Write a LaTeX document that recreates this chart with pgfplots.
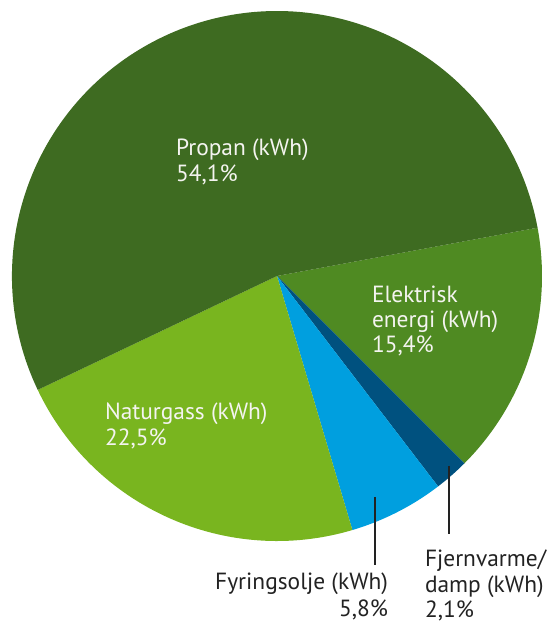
\documentclass[border=0pt]{standalone}
\usepackage{pgfplots}
\usepackage{pgfplotstable}
\pgfplotsset{compat=1.18}
\usepackage{fontspec}
\setmainfont{PT Sans}
\definecolor{cprop}{HTML}{3E6B21}
\definecolor{celek}{HTML}{4F8A22}
\definecolor{cnat}{HTML}{79B51F}
\definecolor{cfyr}{HTML}{009FDF}
\definecolor{cfjern}{HTML}{00517F}
\definecolor{ctxt}{HTML}{F4F4F0}
\definecolor{cdark}{HTML}{222222}
\tikzset{lbl/.style={font=\fontsize{23.5}{28}\selectfont, inner sep=0pt, outer sep=0pt}}
\pgfplotstableread{
label pct
Elektrisk 15.4
Fjernvarme 2.1
Fyringsolje 5.8
Naturgass 22.5
Propan 54.1
}\piedata
% cumulative angles (clockwise from 10.5 deg)
\def\angstart{10.5}
\pgfplotstablegetelem{0}{pct}\of\piedata \edef\pA{\pgfplotsretval}
\pgfplotstablegetelem{1}{pct}\of\piedata \edef\pB{\pgfplotsretval}
\pgfplotstablegetelem{2}{pct}\of\piedata \edef\pC{\pgfplotsretval}
\pgfplotstablegetelem{3}{pct}\of\piedata \edef\pD{\pgfplotsretval}
\pgfplotstablegetelem{4}{pct}\of\piedata \edef\pE{\pgfplotsretval}
\pgfmathsetmacro\tot{\pA+\pB+\pC+\pD+\pE}
\pgfmathsetmacro\aA{\angstart}
\pgfmathsetmacro\aB{\aA-\pA/\tot*360}
\pgfmathsetmacro\aC{\aB-\pB/\tot*360}
\pgfmathsetmacro\aD{\aC-\pC/\tot*360}
\pgfmathsetmacro\aE{\aD-\pD/\tot*360}
\pgfmathsetmacro\aF{\aE-\pE/\tot*360}
\begin{document}
\begin{tikzpicture}
\begin{axis}[
  scale only axis, width=548bp, height=622bp,
  xmin=0, xmax=548, ymin=-622, ymax=0,
  hide axis, clip=false,
]
\coordinate (bl) at (axis cs:0,-622);
\coordinate (tr) at (axis cs:548,0);
\fill[celek] (axis cs:277,-276) -- ++(\aA:265bp) arc[start angle=\aA, end angle=\aB, radius=265bp] -- cycle;
\fill[cfjern] (axis cs:277,-276) -- ++(\aB:265bp) arc[start angle=\aB, end angle=\aC, radius=265bp] -- cycle;
\fill[cfyr] (axis cs:277,-276) -- ++(\aC:265bp) arc[start angle=\aC, end angle=\aD, radius=265bp] -- cycle;
\fill[cnat] (axis cs:277,-276) -- ++(\aD:265bp) arc[start angle=\aD, end angle=\aE, radius=265bp] -- cycle;
\fill[cprop] (axis cs:277,-276) -- ++(\aE:265bp) arc[start angle=\aE, end angle=\aF, radius=265bp] -- cycle;
% labels inside
\node[lbl, anchor=base west, text=ctxt] at (axis cs:176,-156) {Propan (kWh)};
\node[lbl, anchor=base west, text=ctxt] at (axis cs:176,-182) {54,1\%};
\node[lbl, anchor=base west, text=ctxt] at (axis cs:372,-303) {Elektrisk};
\node[lbl, anchor=base west, text=ctxt] at (axis cs:372,-328) {energi (kWh)};
\node[lbl, anchor=base west, text=ctxt] at (axis cs:372,-353) {15,4\%};
\node[lbl, anchor=base west, text=ctxt] at (axis cs:105,-420) {Naturgass (kWh)};
\node[lbl, anchor=base west, text=ctxt] at (axis cs:105,-446) {22,5\%};
% leader lines
\draw[cdark, line width=1.3bp] (axis cs:375,-497) -- (axis cs:375,-565);
\draw[cdark, line width=1.3bp] (axis cs:449,-466) -- (axis cs:449,-534);
% outside labels
\node[lbl, anchor=base east, text=cdark] at (axis cs:388,-590) {Fyringsolje (kWh)};
\node[lbl, anchor=base east, text=cdark] at (axis cs:388,-616) {5,8\%};
\node[lbl, anchor=base west, text=cdark] at (axis cs:425,-567) {Fjernvarme/};
\node[lbl, anchor=base west, text=cdark] at (axis cs:425,-592) {damp (kWh)};
\node[lbl, anchor=base west, text=cdark] at (axis cs:425,-617) {2,1\%};
\end{axis}
\pgfresetboundingbox
\path[use as bounding box] (bl) rectangle (tr);
\end{tikzpicture}
\end{document}
